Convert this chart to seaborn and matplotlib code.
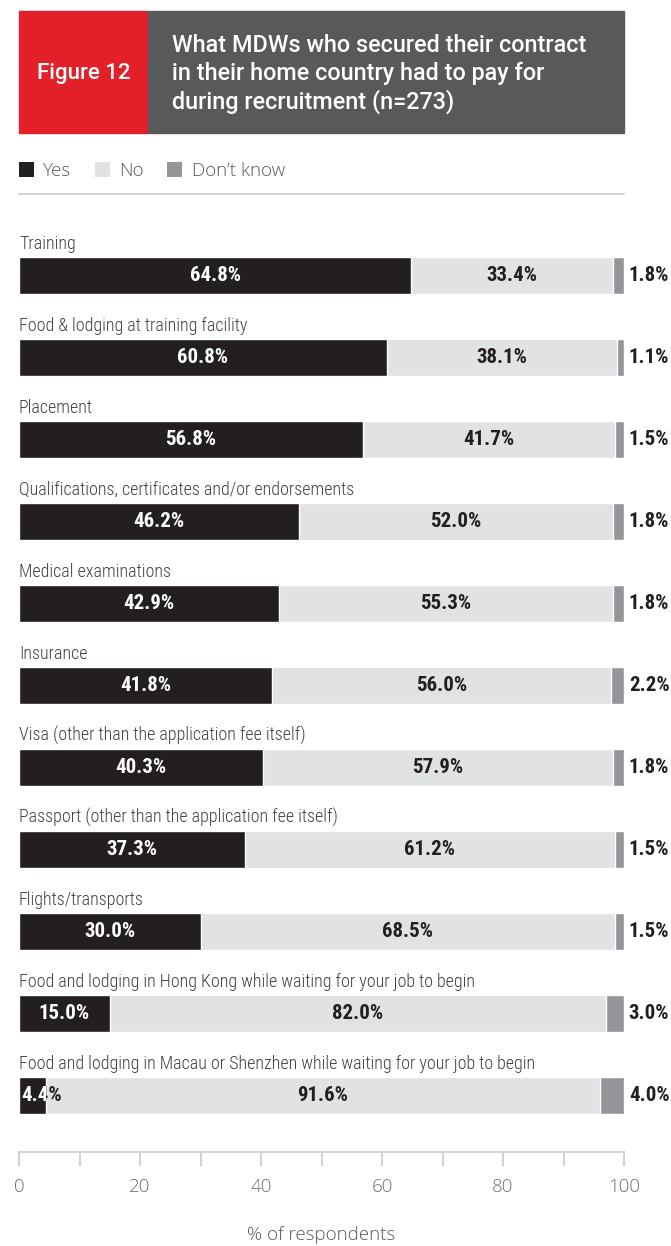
import numpy as np
import pandas as pd
import matplotlib
matplotlib.use('Agg')
import matplotlib.pyplot as plt
from matplotlib.patches import Rectangle, Patch
from matplotlib.lines import Line2D
import seaborn as sns

# 데이터
categories = [
    'Training',
    'Food & lodging at training facility',
    'Placement',
    'Qualifications, certificates and/or endorsements',
    'Medical examinations',
    'Insurance',
    'Visa (other than the application fee itself)',
    'Passport (other than the application fee itself)',
    'Flights/transports',
    'Food and lodging in Hong Kong while waiting for your job to begin',
    'Food and lodging in Macau or Shenzhen while waiting for your job to begin',
]
yes = [64.8, 60.8, 56.8, 46.2, 42.9, 41.8, 40.3, 37.3, 30.0, 15.0, 4.4]
no = [33.4, 38.1, 41.7, 52.0, 55.3, 56.0, 57.9, 61.2, 68.5, 82.0, 91.6]
dont_know = [1.8, 1.1, 1.5, 1.8, 1.8, 2.2, 1.8, 1.5, 1.5, 3.0, 4.0]
series_names = ['Yes', 'No', 'Don\u2019t know']
x_ticks = [0, 20, 40, 60, 80, 100]

df = pd.DataFrame({'category': categories, 'yes': yes, 'no': no, 'dk': dont_know})
df['yes_no'] = df['yes'] + df['no']
df['total'] = df['yes_no'] + df['dk']

# 색상
c_yes = '#231f20'
c_no = '#e1e2e3'
c_dk = '#939598'
c_red = '#e3202a'
c_head = '#58595b'
c_grid = '#d1d3d4'

sns.set_style('white')
plt.rcParams['font.family'] = ['Open Sans', 'DejaVu Sans']

W, H = 671, 1246
fig = plt.figure(figsize=(W / 100, H / 100), dpi=100)

def fx(px):
    return px / W

def fy(py):
    return 1 - py / H

ax = fig.add_axes([fx(19), fy(1152), fx(624) - fx(19), fy(210) - fy(1152)])

bar_h = 0.45
# 누적 막대 (뒤에서부터 그리기)
sns.barplot(data=df, x='total', y='category', color=c_dk, width=bar_h, saturation=1, ax=ax)
sns.barplot(data=df, x='yes_no', y='category', color=c_no, width=bar_h, saturation=1, ax=ax)
sns.barplot(data=df, x='yes', y='category', color=c_yes, width=bar_h, saturation=1, ax=ax)

yes_bars = ax.containers[2]

narrow = ['Roboto Condensed', 'Liberation Sans Narrow', 'DejaVu Sans']
val_fs = 15

for i, row in df.iterrows():
    # 항목 이름
    ax.text(0, i - bar_h / 2 - 0.1, row['category'], ha='left', va='baseline',
            fontsize=13, color='#414042', family=narrow, fontweight='light')
    # Yes
    if row['yes'] < 8:
        # 좁은 막대: 검은 글자 위에 막대 영역만 흰 글자
        ax.text(0.3, i, f"{row['yes']:.1f}%", ha='left', va='center', fontsize=val_fs,
                fontweight='bold', color='#231f20', family=narrow, zorder=5)
        t = ax.text(0.3, i, f"{row['yes']:.1f}%", ha='left', va='center', fontsize=val_fs,
                    fontweight='bold', color='white', family=narrow, zorder=6)
        t.set_clip_on(True)
        t.set_clip_path(yes_bars[i])
    else:
        ax.text(row['yes'] / 2, i, f"{row['yes']:.1f}%", ha='center', va='center',
                fontsize=val_fs, fontweight='bold', color='white', family=narrow)
    # No
    ax.text(row['yes'] + row['no'] / 2, i, f"{row['no']:.1f}%", ha='center', va='center',
            fontsize=val_fs, fontweight='bold', color='#231f20', family=narrow)
    # Don't know
    ax.text(100.8, i, f"{row['dk']:.1f}%", ha='left', va='center', fontsize=val_fs,
            fontweight='bold', color='#231f20', family=narrow, clip_on=False)

ax.set_xlim(0, 100)
ax.set_ylim(10.69, -0.80)
ax.set_yticks([])
ax.set_ylabel('')
ax.set_xticks(x_ticks)
ax.set_xticks([10, 30, 50, 70, 90], minor=True)
ax.tick_params(axis='x', which='both', direction='out', length=10, width=1.5,
               color=c_grid, pad=9, labelsize=13.5, labelcolor='#6d6e71', bottom=True)
for lab in ax.get_xticklabels():
    lab.set_fontweight('light')
for s in ['top', 'right', 'left']:
    ax.spines[s].set_visible(False)
ax.spines['bottom'].set_color(c_grid)
ax.spines['bottom'].set_linewidth(1.5)
ax.set_xlabel('% of respondents', fontsize=13.5, color='#58595b', labelpad=21, fontweight='light')

# 헤더
fig.patches.append(Rectangle((fx(19), fy(133)), fx(148) - fx(19), fy(11) - fy(133),
                             transform=fig.transFigure, color=c_red, zorder=0))
fig.patches.append(Rectangle((fx(148), fy(133)), fx(624) - fx(148), fy(11) - fy(133),
                             transform=fig.transFigure, color=c_head, zorder=0))
fig.text(fx(83.5), fy(73), 'Figure 12', ha='center', va='center', color='white',
         fontsize=16, family=['Roboto', 'DejaVu Sans'], fontweight='medium')
fig.text(fx(172), fy(74),
         'What MDWs who secured their contract\nin their home country had to pay for\nduring recruitment (n=273)',
         ha='left', va='center', color='white', fontsize=16.8, linespacing=1.22,
         family=['Roboto', 'DejaVu Sans'], fontweight='medium')

# 범례
handles = [Patch(facecolor=c, edgecolor='none') for c in [c_yes, c_no, c_dk]]
leg = fig.legend(handles, series_names, loc='center left', bbox_to_anchor=(fx(19), fy(171)),
                 ncol=3, frameon=False, fontsize=13.5, handlelength=0.8, handleheight=0.8,
                 handletextpad=0.5, columnspacing=1.25, borderaxespad=0, borderpad=0)
for t in leg.get_texts():
    t.set_color('#58595b')
    t.set_fontweight('light')

fig.add_artist(Line2D([fx(19), fx(624)], [fy(194), fy(194)], transform=fig.transFigure,
                      color=c_grid, lw=1.5))

fig.savefig('out.png', dpi=100)
